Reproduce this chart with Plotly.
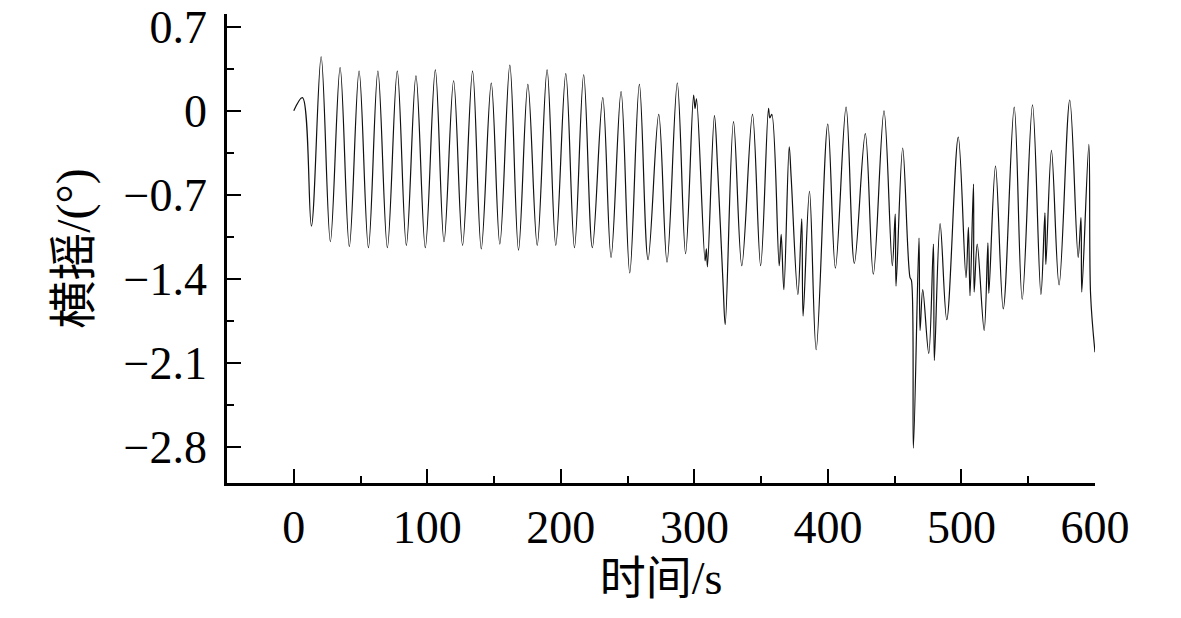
import plotly.graph_objects as go

# Roll angle time history (turning points)
time_s = [0, 6.5, 13.2, 20.5, 27.4, 34.7, 41.6, 48.9, 55.9, 63.0, 70.1, 77.5, 84.3, 91.5, 98.5,
          106.0, 112.5, 119.7, 126.4, 133.9, 140.4, 147.9, 154.3, 161.8, 168.3, 175.3, 182.3,
          189.7, 196.2, 203.7, 210.2, 217.1, 223.6, 231.4, 237.6, 245.1, 251.6, 258.8, 265.3,
          273.3, 279.5, 287.2, 293.4, 299.4, 300.5, 301.6, 308.0, 309.0, 309.8, 315.0, 317.5,
          321.5, 323.1, 329.3, 335.5, 343.5, 349.6, 355.5, 356.5, 358.0, 363.5, 365.0, 367.0,
          371.0, 372.5, 377.5, 380.4, 381.4, 386.2, 391.2, 399.9, 405.6, 413.6, 419.8, 428.0,
          434.0, 442.0, 448.2, 450.4, 451.0, 456.0, 461.5, 462.5, 464.0, 468.2, 469.0, 471.0,
          475.5, 479.0, 479.7, 484.0, 489.0, 497.6, 503.4, 505.2, 506.4, 509.0, 509.5, 511.8,
          517.0, 519.8, 520.5, 525.5, 531.3, 539.5, 545.5, 553.2, 559.5, 562.5, 563.2, 567.4,
          573.1, 581.1, 587.4, 589.5, 590.1, 595.4, 596.7, 600.0]
roll_deg = [0.00, 0.11, -0.96, 0.45, -1.09, 0.36, -1.13, 0.33, -1.14, 0.33, -1.14, 0.33, -1.12, 0.29, -1.14,
            0.34, -1.09, 0.25, -1.12, 0.33, -1.15, 0.23, -1.11, 0.38, -1.16, 0.22, -1.12,
            0.34, -1.12, 0.31, -1.14, 0.30, -1.14, 0.11, -1.22, 0.16, -1.35, 0.22, -1.24,
            -0.03, -1.26, 0.23, -1.19, 0.13, 0.02, 0.10, -1.25, -1.15, -1.30, -0.04, -0.50,
            -1.45, -1.78, -0.09, -1.29, -0.03, -1.29, 0.02, -0.06, -0.03, -1.29, -1.03, -1.49,
            -0.30, -0.56, -1.53, -0.90, -1.71, -0.67, -1.99, -0.11, -1.31, 0.03, -1.27, -0.19,
            -1.36, 0.00, -1.29, -0.86, -1.46, -0.31, -1.39, -1.41, -2.81, -1.06, -1.83, -1.49,
            -2.02, -1.11, -2.08, -0.94, -1.74, -0.22, -1.39, -0.97, -1.54, -0.61, -1.51, -1.11,
            -1.83, -1.10, -1.52, -0.46, -1.65, 0.03, -1.57, 0.05, -1.53, -0.85, -1.28, -0.33,
            -1.45, 0.09, -1.22, -0.89, -1.51, -0.28, -1.53, -2.01]

x_ticks = [0, 100, 200, 300, 400, 500, 600]
x_minor = [50, 150, 250, 350, 450, 550]
y_ticks = [0.7, 0, -0.7, -1.4, -2.1, -2.8]
y_tick_text = ["0.7", "0", "\u22120.7", "\u22121.4", "\u22122.1", "\u22122.8"]
y_minor = [0.35, -0.35, -1.05, -1.75, -2.45]

FONT = "Liberation Serif, Times New Roman, Noto Sans CJK SC, serif"
FS = 46

fig = go.Figure()
fig.add_trace(go.Scatter(
    x=time_s, y=roll_deg, mode="lines",
    line=dict(color="#111111", width=1.2, shape="spline", smoothing=1.0),
    showlegend=False,
))

fig.update_layout(
    width=1165, height=602,
    margin=dict(l=219, r=78, t=6, b=127),
    paper_bgcolor="white", plot_bgcolor="white",
    font=dict(family=FONT, size=FS, color="black"),
)
fig.update_xaxes(
    range=[-50, 600], showgrid=False, zeroline=False, automargin=False,
    showline=True, linecolor="black", linewidth=2.5,
    tickmode="array", tickvals=x_ticks, ticktext=[str(v) for v in x_ticks],
    ticks="inside", ticklen=14, tickwidth=2, tickcolor="black",
    minor=dict(tickmode="array", tickvals=x_minor, ticks="inside", ticklen=7,
               tickwidth=2, tickcolor="black", showgrid=False),
    tickfont=dict(family=FONT, size=FS),
    ticklabelstandoff=2, ticklabeloverflow="allow",
    title=dict(text="时间/s", font=dict(family=FONT, size=FS), standoff=6),
)
fig.update_yaxes(
    range=[-3.0996, 0.806], showgrid=False, zeroline=False, automargin=False,
    showline=True, linecolor="black", linewidth=2.5,
    tickmode="array", tickvals=y_ticks, ticktext=y_tick_text,
    ticks="inside", ticklen=14, tickwidth=2, tickcolor="black",
    minor=dict(tickmode="array", tickvals=y_minor, ticks="inside", ticklen=7,
               tickwidth=2, tickcolor="black", showgrid=False),
    tickfont=dict(family=FONT, size=FS),
    ticklabelstandoff=8, ticklabeloverflow="allow",
    title=dict(text="横摇/(°)", font=dict(family=FONT, size=48), standoff=18),
)

fig.write_html("out.html")
